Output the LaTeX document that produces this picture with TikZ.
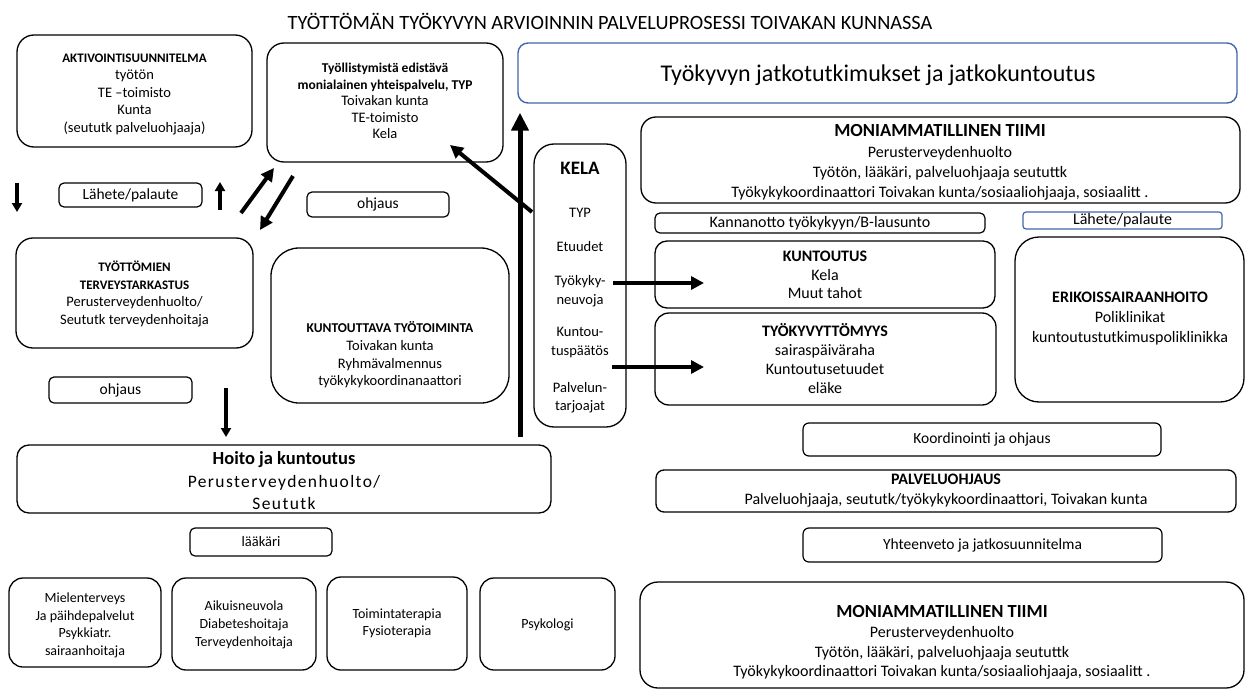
\documentclass[tikz,border=0pt]{standalone}
\usepackage{fontspec}
\setmainfont{Carlito}
\newfontfamily\spacedfont{Carlito}[LetterSpace=8]
\usetikzlibrary{arrows.meta}
\definecolor{boxblue}{RGB}{64,104,168}
\newcommand{\fsz}[2]{\fontsize{#1}{#2}\selectfont}
\newcommand{\Bx}[7]{\node[#1, minimum width={(#5-#3)*1pt}, minimum height={(#6-#4)*1pt}] (#2) at ({(#3+#5)/2},{(#4+#6)/2}) {#7};}
\begin{document}
\begin{tikzpicture}[x=1pt,y=-1pt,
  box/.style={draw, line width=1.3pt, rounded corners=15pt, inner sep=0pt, align=center},
  sbox/.style={draw, line width=1.2pt, rounded corners=5pt, inner sep=0pt, align=center},
  txt/.style={align=center, inner sep=0pt},
  arrS/.style={line width=3.2pt, -{Triangle[length=9pt,width=10pt]}},
  arrM/.style={line width=4pt, -{Triangle[length=13pt,width=13pt]}},
  arrL/.style={line width=5pt, -{Triangle[length=18pt,width=17pt]}}]
\useasboundingbox (0,0) rectangle (1247,690);
\fill[white] (0,0) rectangle (1247,690);

\node[txt, font=\fsz{20.3}{22}] (title) at (610,21) {TYÖTTÖMÄN TYÖKYVYN ARVIOINNIN PALVELUPROSESSI TOIVAKAN KUNNASSA};

% left column top
\Bx{box, rounded corners=17pt}{akt}{17}{35}{252}{147}{}
\node[txt, font=\fsz{14.5}{17.5}] (aktt) at (134.5,94) {{\fsz{13}{15}\bfseries AKTIVOINTISUUNNITELMA}\\työtön\\TE –toimisto\\Kunta\\(seututk palveluohjaaja)};

\Bx{box, rounded corners=17pt}{typ}{267}{43}{503}{162}{}
\node[txt, font=\fsz{14.5}{16.6}] (typt) at (385,101) {{\fsz{13.5}{16}\bfseries Työllistymistä edistävä}\\{\fsz{13.5}{16}\bfseries monialainen yhteispalvelu, TYP}\\Toivakan kunta\\TE-toimisto\\Kela};

\Bx{sbox, font=\fsz{15.5}{18}}{lah1}{59}{183}{202}{207}{Lähete/palaute}
\Bx{sbox, font=\fsz{15.5}{18}}{ohj1}{307}{192}{449}{217}{ohjaus}

\Bx{box, rounded corners=17pt}{tyott}{16}{238}{253}{348}{}
\node[txt, font=\fsz{14.5}{17.5}] (tyottt) at (134.5,294) {{\fsz{13}{15}\bfseries TYÖTTÖMIEN}\\{\fsz{13}{15}\bfseries TERVEYSTARKASTUS}\\Perusterveydenhuolto/\\Seututk terveydenhoitaja};

\Bx{box, rounded corners=28pt}{ktt}{271}{248}{509}{403}{}
\node[txt, font=\fsz{14.5}{17.7}] (kttt) at (390,355) {{\fsz{13.5}{15}\bfseries KUNTOUTTAVA TYÖTOIMINTA}\\Toivakan kunta\\Ryhmävalmennus\\työkykykoordinanaattori};

\Bx{sbox, font=\fsz{15.5}{18}}{ohj2}{49}{377}{192}{403}{ohjaus}

\Bx{box, rounded corners=12pt}{hoito}{17}{445}{551}{513}{}
\node[txt, font=\fsz{17.5}{22.5}] (hoitot) at (284,481) {{\fsz{18.5}{22}\bfseries Hoito ja kuntoutus}\\{\spacedfont Perusterveydenhuolto/}\\{\spacedfont Seututk}};

\Bx{sbox, font=\fsz{14.5}{17}}{laak}{190}{528}{332}{556}{lääkäri}

\Bx{box, rounded corners=14pt}{b1}{9}{578}{161}{667}{}
\node[txt, font=\fsz{14}{17.5}] (b1t) at (85,625.4) {Mielenterveys\\Ja päihdepalvelut\\Psykkiatr.\\sairaanhoitaja};
\Bx{box, rounded corners=14pt}{b2}{172}{578}{316}{670}{}
\node[txt, font=\fsz{14}{18.3}] (b2t) at (244,625) {Aikuisneuvola\\Diabeteshoitaja\\Terveydenhoitaja};
\Bx{box, rounded corners=14pt}{b3}{327}{577}{467}{670}{}
\node[txt, font=\fsz{14}{16.7}] (b3t) at (397,623.4) {Toimintaterapia\\Fysioterapia};
\Bx{box, rounded corners=14pt}{b4}{480}{578}{615}{670}{}
\node[txt, font=\fsz{14}{17}] (b4t) at (547.5,625) {Psykologi};

% KELA column
\Bx{box, rounded corners=20pt}{kela}{534}{144}{626}{427}{}
\node[txt, font=\fsz{19}{22}\bfseries] (kela1) at (580,168) {KELA};
\node[txt, font=\fsz{14.5}{18.5}] (kela2) at (580,213) {TYP};
\node[txt, font=\fsz{14.5}{18.5}] (kela3) at (580,247) {Etuudet};
\node[txt, font=\fsz{14.5}{18.5}] (kela4) at (580,291) {Työkyky-\\neuvoja};
\node[txt, font=\fsz{14.5}{18.5}] (kela5) at (580,342.5) {Kuntou-\\tuspäätös};
\node[txt, font=\fsz{14.5}{18.5}] (kela6) at (580,397.5) {Palvelun-\\tarjoajat};

% right column
\Bx{box, draw=boxblue, line width=1.4pt, rounded corners=10pt}{jatko}{518}{43}{1237}{103}{}
\node[txt, font=\fsz{24}{26}] (jatkot) at (878,75.5) {Työkyvyn jatkotutkimukset ja jatkokuntoutus};

\Bx{box, rounded corners=15pt}{moni1}{641}{117}{1240}{203}{}
\node[txt, font=\fsz{16}{20}] (moni1t) at (940,162) {{\fsz{18.5}{20}\bfseries MONIAMMATILLINEN TIIMI}\\[1pt]Perusterveydenhuolto\\Työtön, lääkäri, palveluohjaaja seututtk\\Työkykykoordinaattori Toivakan kunta/sosiaaliohjaaja, sosiaalitt .};

\Bx{sbox, font=\fsz{16}{18}}{kann}{655}{213}{985}{233}{Kannanotto työkykyyn/B-lausunto}
\Bx{sbox, draw=boxblue, rounded corners=3pt, font=\fsz{16}{18}}{lah2}{1023}{212}{1222}{229}{Lähete/palaute}

\Bx{box, rounded corners=12pt}{kunt}{655}{241}{995}{308}{}
\node[txt, font=\fsz{16}{18.2}] (kuntt) at (825,275) {{\bfseries KUNTOUTUS}\\Kela\\Muut tahot};

\Bx{box, rounded corners=14pt}{tkyv}{655}{313}{996}{405}{}
\node[txt, font=\fsz{16}{19}] (tkyvt) at (825,358.5) {{\bfseries TYÖKYVYTTÖMYYS}\\sairaspäiväraha\\Kuntoutusetuudet\\eläke};

\Bx{box, rounded corners=24pt}{erik}{1015}{237}{1244}{402}{}
\node[txt, font=\fsz{16}{20}] (erikt) at (1130,319) {{\bfseries ERIKOISSAIRAANHOITO}\\Poliklinikat\\kuntoutustutkimuspoliklinikka};

\Bx{sbox, rounded corners=6pt, font=\fsz{15.5}{18}}{koord}{803}{423}{1161}{456}{Koordinointi ja ohjaus}
\Bx{box, rounded corners=8pt, font=\fsz{16}{20}}{palv}{656}{470}{1236}{512}{{\bfseries PALVELUOHJAUS}\\Palveluohjaaja, seututk/työkykykoordinaattori, Toivakan kunta}
\Bx{sbox, rounded corners=6pt, font=\fsz{15.5}{18}}{yht}{803}{528}{1162}{562}{Yhteenveto ja jatkosuunnitelma}

\Bx{box, rounded corners=18pt}{moni2}{640}{582}{1244}{688}{}
\node[txt, font=\fsz{16}{19.5}] (moni2t) at (942,642.5) {{\fsz{18.5}{20}\bfseries MONIAMMATILLINEN TIIMI}\\[1pt]Perusterveydenhuolto\\Työtön, lääkäri, palveluohjaaja seututtk\\Työkykykoordinaattori Toivakan kunta/sosiaaliohjaaja, sosiaalitt .};

% arrows
\coordinate (a1s) at (17,183); \coordinate (a1e) at (17,212);
\draw[arrS] (a1s) -- (a1e);
\coordinate (a2s) at (220,210); \coordinate (a2e) at (220,182);
\draw[arrS] (a2s) -- (a2e);
\coordinate (a3s) at (241,213); \coordinate (a3e) at (274,168);
\draw[arrM] (a3s) -- (a3e);
\coordinate (a4s) at (293,176); \coordinate (a4e) at (260,230);
\draw[arrM] (a4s) -- (a4e);
\coordinate (a5s) at (226,388); \coordinate (a5e) at (226,437);
\draw[arrS] (a5s) -- (a5e);

\coordinate (va0) at (520,437);
\draw[arrL, shorten >=9pt] (va0) -- (va0 |- jatko.south);
\coordinate (d0) at (532,212); \coordinate (d1) at (450,145);
\draw[arrM] (d0) -- (d1);
\coordinate (k1s) at (613,283); \coordinate (k1e) at (704,283);
\draw[arrM] (k1s) -- (k1e);
\coordinate (k2s) at (612,367); \coordinate (k2e) at (704,367);
\draw[arrM] (k2s) -- (k2e);
\end{tikzpicture}
\end{document}
